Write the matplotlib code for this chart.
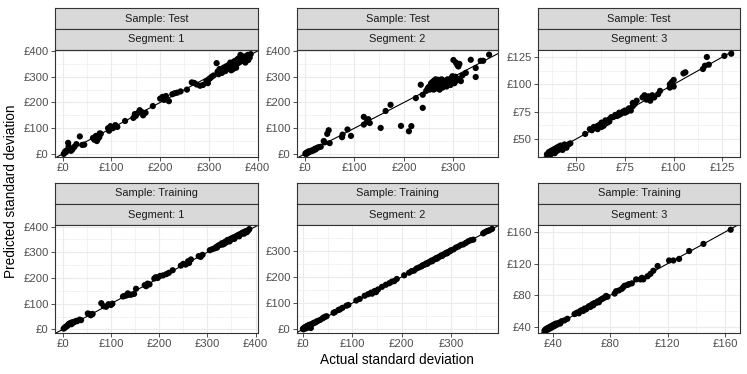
import matplotlib.pyplot as plt

plt.rcParams['font.family'] = ['Liberation Sans', 'DejaVu Sans']

test1_x = [2, 4, 5, 7, 9, 11, 12, 14, 17, 20, 24, 28, 35, 40, 44,
           62, 65, 68, 70, 72, 75, 76, 78, 93, 95, 98, 103, 108, 112, 128,
           145, 148, 150, 155, 158, 162, 165, 170, 185, 200, 205, 208, 212, 218,
           225, 230, 235, 242, 255, 265, 270, 275, 282, 288, 295, 298, 300, 303, 306, 310,
           316, 318, 320, 322, 325, 327, 330, 332, 335, 337, 340, 342, 345, 347, 350, 350,
           352, 355, 357, 358, 360, 362, 364, 366, 368, 370, 372, 374, 376, 378, 380, 381,
           356, 346, 334, 365, 375, 344, 384, 386]
test1_y = [0, 5, 10, 8, 15, 43, 30, 20, 12, 18, 28, 38, 68, 35, 36,
           62, 55, 70, 50, 58, 65, 80, 78, 100, 90, 108, 100, 112, 105, 128,
           140, 155, 148, 160, 170, 163, 150, 160, 186, 215, 222, 210, 225, 205,
           232, 236, 238, 243, 250, 278, 276, 270, 265, 268, 283, 275, 290, 295, 300, 305,
           353, 320, 310, 330, 325, 315, 335, 328, 340, 330, 345, 335, 350, 340, 355, 330,
           360, 345, 365, 350, 370, 355, 375, 360, 380, 365, 372, 360, 380, 370, 385, 365,
           335, 325, 322, 385, 355, 355, 375, 388]

test2_x = [1, 2, 3, 4, 5, 6, 7, 8, 10, 12, 14, 16, 18, 20, 22, 25, 28, 32,
           38, 40, 45, 48, 50, 75, 76, 86, 93, 119, 119, 125, 128, 131, 153, 163, 173,
           194, 210, 215, 224, 234, 238, 238,
           245, 248, 250, 252, 254, 255, 256, 258, 259, 260, 261, 262, 263, 264, 265, 266,
           267, 268, 269, 270, 271, 272, 273, 274, 275, 276, 277, 278, 279, 280, 282, 284,
           286, 288, 290, 292, 294, 296, 298, 300, 302, 304, 306, 308, 312, 315,
           298, 300, 305, 308, 310, 312, 318, 325, 335, 345, 345, 355, 360, 372]
test2_y = [1, 3, 0, 5, 3, 8, 6, 10, 9, 12, 11, 15, 14, 20, 18, 24, 26, 28,
           50, 45, 78, 92, 42, 65, 75, 95, 70, 144, 114, 125, 135, 120, 101, 167, 191,
           109, 88, 108, 217, 269, 179, 230,
           245, 255, 260, 250, 268, 275, 258, 280, 265, 250, 285, 270, 260, 290, 275, 255,
           280, 268, 288, 262, 275, 250, 283, 270, 265, 290, 278, 258, 272, 285, 270, 278,
           262, 290, 275, 282, 268, 295, 280, 288, 275, 300, 285, 292, 290, 283,
           302, 365, 355, 345, 340, 350, 305, 315, 366, 334, 299, 362, 362, 386]

test3_x = [35, 36, 36, 37, 37, 38, 38, 39, 39, 40, 40, 41, 41, 42, 42, 43, 43, 44, 44,
           45, 45, 46, 47, 54.6,
           57, 58, 59, 60, 61, 61, 62, 63, 63, 64, 65, 65, 66, 67, 67,
           68, 69, 70, 71, 72, 72, 73, 74, 75, 75, 76, 77, 78, 79, 79, 80, 81,
           84, 85, 86, 87, 88, 89, 90, 92, 93, 98, 98, 99, 100, 100,
           105, 106, 115, 116, 117, 118, 126, 129.5]
test3_y = [36, 37, 38, 36, 39, 38, 40, 37, 41, 39, 42, 40, 43, 41, 44, 42, 40, 43, 45,
           42, 44, 45, 46, 54.6,
           59, 58, 61, 60, 62, 59, 63, 61, 65, 62, 64, 67, 65, 68, 66,
           70, 70, 72, 71, 74, 72, 73, 75, 74, 76, 75, 78, 76, 80, 83, 82, 85,
           88, 90, 86, 89, 85, 90, 88, 91, 94, 97, 100, 102, 104, 98,
           110, 111, 114, 117, 125, 118, 126, 128]

train1_x = [2, 4, 6, 8, 10, 12, 14, 16, 18, 20, 22, 25, 28, 30, 35, 38,
            52, 55, 58, 60, 62, 80, 85, 90, 95, 100, 103,
            125, 128, 132, 135, 138, 142, 148, 152, 170, 173, 176, 180,
            190, 193, 197, 202, 208, 215, 220, 228, 245, 250, 255, 260, 262, 266,
            282, 286, 290,
            305, 310, 315, 318, 320, 322, 325, 328, 330, 332, 335, 338, 340, 342, 345, 348,
            350, 352, 355, 358, 360, 362, 365, 368, 370, 372, 375, 378, 380, 382, 385, 387,
            376, 366, 356, 346, 336]
train1_y = [3, 6, 10, 12, 15, 20, 22, 25, 20, 28, 26, 30, 33, 32, 38, 36,
            62, 60, 55, 58, 60, 102, 90, 88, 98, 95, 100,
            128, 130, 132, 140, 135, 135, 138, 158, 172, 168, 178, 175,
            198, 203, 200, 208, 210, 215, 220, 230, 248, 255, 252, 265, 258, 272,
            285, 282, 290,
            308, 312, 315, 320, 318, 325, 328, 330, 335, 330, 338, 342, 340, 348, 345, 352,
            350, 356, 358, 360, 362, 365, 368, 370, 372, 375, 378, 380, 382, 378, 385, 390,
            372, 362, 352, 342, 334]

train2_x = [0, 1, 2, 3, 4, 5, 6, 7, 8, 9, 10, 11, 12, 13, 14, 15, 16, 18, 20, 22, 25,
            28, 30, 35, 40, 42, 45, 48,
            62, 65, 72, 75, 80, 88, 92,
            108, 115, 125, 132, 138, 140, 145, 148, 152,
            160, 168, 175, 180, 185, 190,
            205, 215, 220, 225, 230, 235, 240, 242, 245, 248, 250, 252, 255, 258, 260, 262,
            265, 268, 270, 272, 275, 278, 280, 282, 285, 288, 290, 292, 295, 298, 300, 305,
            310, 315, 320, 325, 330, 335, 340, 345, 365, 368, 372, 375, 378, 383]
train2_y = [2, 0, 5, 3, 8, 6, 10, 4, 12, 8, 14, 10, 16, 12, 18, 14, 5, 20, 22, 25, 26,
            30, 32, 36, 42, 45, 48, 50,
            63, 66, 74, 76, 82, 90, 93,
            110, 116, 128, 134, 140, 136, 146, 142, 152,
            162, 170, 176, 182, 184, 192,
            206, 216, 222, 224, 232, 236, 240, 244, 246, 248, 252, 250, 256, 258, 262, 260,
            266, 268, 272, 270, 276, 278, 282, 280, 286, 288, 292, 290, 296, 298, 302, 305,
            312, 316, 322, 324, 330, 336, 340, 342, 366, 370, 374, 376, 378, 383]

train3_x = [34, 35, 35, 36, 36, 37, 37, 38, 38, 39, 39, 40, 40, 41, 41, 42, 42, 43,
            44, 45, 46, 48, 50,
            55, 56, 57, 58, 59, 60, 61, 62, 63, 64, 65, 66, 67, 68, 68, 69, 70, 71,
            72, 73, 74, 75, 76, 77, 78,
            83, 84, 86, 88, 89, 90, 92, 93, 95, 98,
            101, 102, 103, 106, 108, 110, 113,
            121, 124, 128, 135, 145, 164]
train3_y = [35, 36, 37, 36, 38, 37, 39, 38, 40, 39, 41, 40, 42, 41, 43, 42, 44, 43,
            45, 44, 47, 48, 50,
            56, 57, 58, 57, 60, 61, 60, 63, 62, 64, 66, 65, 68, 67, 69, 70, 70, 72,
            71, 74, 75, 76, 77, 79, 78,
            82, 85, 86, 88, 90, 92, 93, 94, 95, 100,
            100, 102, 100, 104, 107, 111, 117,
            124, 124, 126, 136, 145, 163]

samples = ["Test", "Test", "Test", "Training", "Training", "Training"]
segments = [1, 2, 3, 1, 2, 3]
xs = [test1_x, test2_x, test3_x, train1_x, train2_x, train3_x]
ys = [test1_y, test2_y, test3_y, train1_y, train2_y, train3_y]

# limites y marcas de cada panel (escalas libres)
xlims = [(-16, 401), (-16, 390), (30.4, 134), (-16, 405), (-12, 395), (29.5, 170.5)]
ylims = [(-12, 404), (-12, 404), (33.5, 131.4), (-14, 406), (-14, 398), (32, 169)]
xticks = [[0, 100, 200, 300, 400], [0, 100, 200, 300], [50, 75, 100, 125],
          [0, 100, 200, 300, 400], [0, 100, 200, 300], [40, 80, 120, 160]]
yticks = [[0, 100, 200, 300, 400], [0, 100, 200, 300, 400], [50, 75, 100, 125],
          [0, 100, 200, 300, 400], [0, 100, 200, 300], [40, 80, 120, 160]]

W, H = 747, 374
fig = plt.figure(figsize=(W / 100, H / 100), dpi=100)


def rect(l, t, r, b):
    return [l / W, 1 - b / H, (r - l) / W, (b - t) / H]


cols = [(55, 258), (297, 498), (538, 740)]
rows = [(8, 50, 157), (183, 225, 333)]
strip_h = 21

for i in range(6):
    l, r = cols[i % 3]
    st, pt, pb = rows[i // 3]

    # tiras de faceta
    for j, txt in enumerate([f"Sample: {samples[i]}", f"Segment: {segments[i]}"]):
        sax = fig.add_axes(rect(l, st + j * strip_h, r, st + (j + 1) * strip_h))
        sax.set_facecolor('#D9D9D9')
        sax.set_xticks([])
        sax.set_yticks([])
        for s in sax.spines.values():
            s.set_color('#333333')
            s.set_linewidth(0.8)
        sax.text(0.5, 0.5, txt, ha='center', va='center', fontsize=7.9,
                 color='#1A1A1A', transform=sax.transAxes)

    ax = fig.add_axes(rect(l, pt, r, pb))
    xt, yt = xticks[i], yticks[i]
    ax.set_xticks(xt)
    ax.set_yticks(yt)
    stepx = xt[1] - xt[0]
    stepy = yt[1] - yt[0]
    ax.set_xticks([v + stepx / 2 for v in [xt[0] - stepx] + xt], minor=True)
    ax.set_yticks([v + stepy / 2 for v in [yt[0] - stepy] + yt], minor=True)
    ax.set_xticklabels([f"£{v}" for v in xt])
    ax.set_yticklabels([f"£{v}" for v in yt])
    ax.grid(which='major', color='#EBEBEB', lw=0.8)
    ax.grid(which='minor', color='#EBEBEB', lw=0.4)
    ax.set_axisbelow(True)
    ax.tick_params(which='major', length=3, width=0.6, color='#333333',
                   labelsize=8.1, labelcolor='#4D4D4D', pad=1.5)
    ax.tick_params(which='minor', length=0)
    for s in ax.spines.values():
        s.set_color('#333333')
        s.set_linewidth(0.8)

    ax.scatter(xs[i], ys[i], s=20, color='black', edgecolors='none', zorder=3)
    ax.axline((0, 0), slope=1, color='black', lw=0.8, zorder=2)
    # los ticks amplian la vista, asi que los limites van al final
    ax.set_xlim(xlims[i])
    ax.set_ylim(ylims[i])

fig.text(397 / W, 1 - 360 / H, "Actual standard deviation", ha='center', va='center',
         fontsize=9.8, color='black')
fig.text(11 / W, 1 - 191 / H, "Predicted standard deviation", ha='center', va='center',
         rotation=90, fontsize=9.8, color='black')

fig.savefig("out.png", dpi=100)
